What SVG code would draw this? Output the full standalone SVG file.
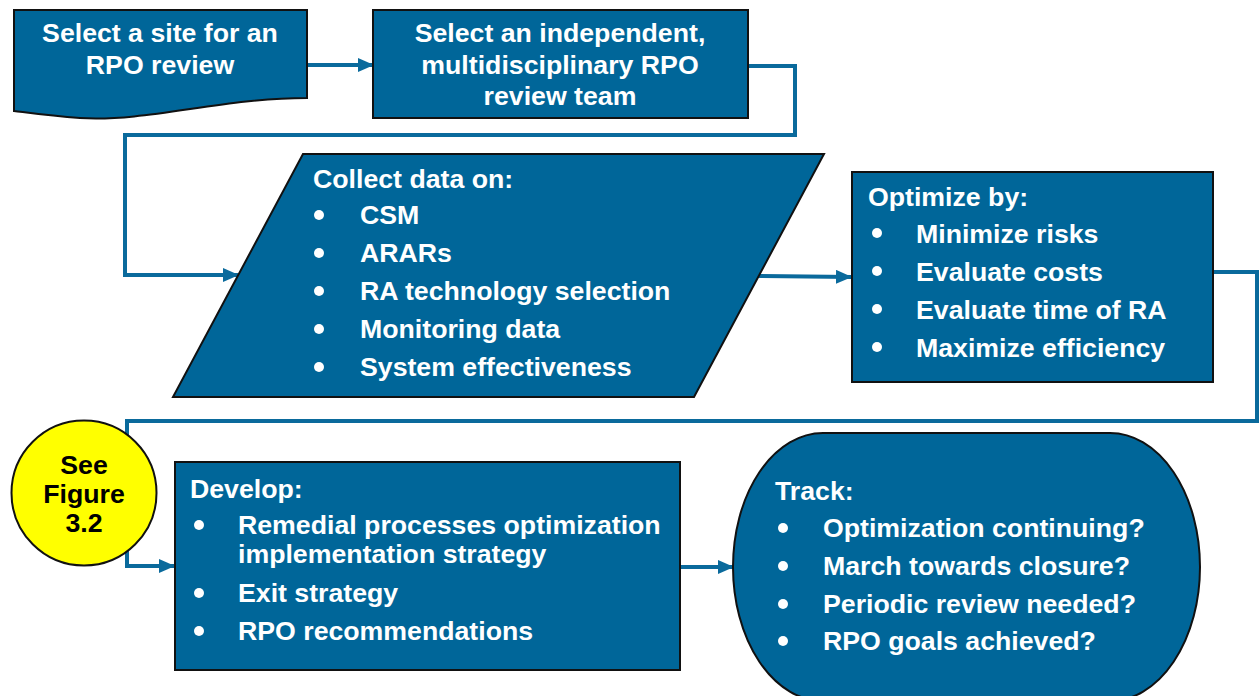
<svg xmlns="http://www.w3.org/2000/svg" width="1259" height="696" viewBox="0 0 1259 696">
<style>
.box{fill:#006699;stroke:#111;stroke-width:2}
.t{font-family:"Liberation Sans",Arial,sans-serif;font-weight:bold;font-size:26.7px;fill:#fff}
.c{text-anchor:middle}
.k{fill:#000}
.conn{fill:none;stroke:#0a6a9c;stroke-width:4}
.dot{fill:#fff}
</style>
<defs>
<marker id="ah" markerUnits="userSpaceOnUse" markerWidth="16" markerHeight="14" refX="15" refY="7" orient="auto">
<path d="M0,0 L16,7 L0,14 z" fill="#0a6a9c"/>
</marker>
</defs>
<rect width="1259" height="696" fill="#fff"/>
<g id="connectors">
<path class="conn" d="M307,65 H373" marker-end="url(#ah)"/>
<path class="conn" d="M748,66 H795 V135 H125 V275 H238" marker-end="url(#ah)"/>
<path class="conn" d="M757,276 L851,277" marker-end="url(#ah)"/>
<path class="conn" d="M1213,272 H1257 V421 H127 V566 H174" marker-end="url(#ah)"/>
<path class="conn" d="M681,567 H733" marker-end="url(#ah)"/>
</g>
<g id="node-site">
<path class="box" d="M14,10 H307 V98 C220,98 150,122 80,118 C50,116 30,113 14,111 Z"/>
<text class="t c" x="160" y="42">Select a site for an</text>
<text class="t c" x="160" y="74">RPO review</text>
</g>
<g id="node-team">
<rect class="box" x="373" y="10" width="375" height="108"/>
<text class="t c" x="560" y="42">Select an independent,</text>
<text class="t c" x="560" y="74">multidisciplinary RPO</text>
<text class="t c" x="560" y="105">review team</text>
</g>
<g id="node-collect">
<path class="box" d="M303,154 H824 L694,397 H173 Z"/>
<text class="t" x="313" y="188">Collect data on:</text>
<circle class="dot" cx="319" cy="215" r="5"/><text class="t" x="360" y="224">CSM</text>
<circle class="dot" cx="319" cy="253" r="5"/><text class="t" x="360" y="262">ARARs</text>
<circle class="dot" cx="319" cy="291" r="5"/><text class="t" x="360" y="300">RA technology selection</text>
<circle class="dot" cx="319" cy="329" r="5"/><text class="t" x="360" y="338">Monitoring data</text>
<circle class="dot" cx="319" cy="367" r="5"/><text class="t" x="360" y="376">System effectiveness</text>
</g>
<g id="node-optimize">
<rect class="box" x="852" y="172" width="361" height="210"/>
<text class="t" x="868" y="206">Optimize by:</text>
<circle class="dot" cx="877" cy="233" r="5"/><text class="t" x="916" y="243">Minimize risks</text>
<circle class="dot" cx="877" cy="271" r="5"/><text class="t" x="916" y="281">Evaluate costs</text>
<circle class="dot" cx="877" cy="309" r="5"/><text class="t" x="916" y="319">Evaluate time of RA</text>
<circle class="dot" cx="877" cy="347" r="5"/><text class="t" x="916" y="357">Maximize efficiency</text>
</g>
<g id="node-figure">
<circle cx="84" cy="493" r="72.5" fill="#ffff00" stroke="#111" stroke-width="2"/>
<text class="t c k" x="84" y="474">See</text>
<text class="t c k" x="84" y="503">Figure</text>
<text class="t c k" x="84" y="532">3.2</text>
</g>
<g id="node-develop">
<rect class="box" x="175" y="462" width="505" height="208"/>
<text class="t" x="190" y="498">Develop:</text>
<circle class="dot" cx="199" cy="525" r="5"/><text class="t" x="238" y="534">Remedial processes optimization</text>
<text class="t" x="238" y="563">implementation strategy</text>
<circle class="dot" cx="199" cy="593" r="5"/><text class="t" x="238" y="602">Exit strategy</text>
<circle class="dot" cx="199" cy="631" r="5"/><text class="t" x="238" y="640">RPO recommendations</text>
</g>
<g id="node-track">
<rect class="box" x="733" y="433" width="467" height="268" rx="90" ry="134"/>
<text class="t" x="775" y="500">Track:</text>
<circle class="dot" cx="783" cy="528" r="5"/><text class="t" x="823" y="537">Optimization continuing?</text>
<circle class="dot" cx="783" cy="566" r="5"/><text class="t" x="823" y="575">March towards closure?</text>
<circle class="dot" cx="783" cy="604" r="5"/><text class="t" x="823" y="613">Periodic review needed?</text>
<circle class="dot" cx="783" cy="641" r="5"/><text class="t" x="823" y="650">RPO goals achieved?</text>
</g>
</svg>
